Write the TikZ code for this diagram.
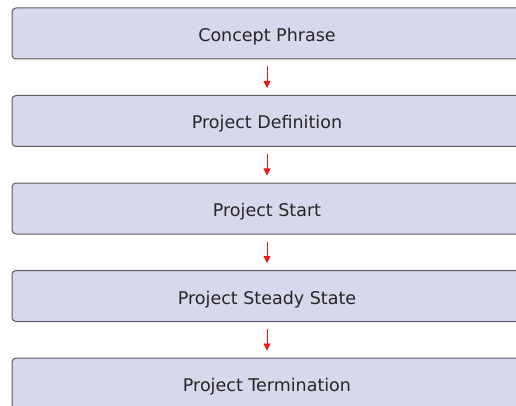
\documentclass[tikz,border=0pt]{standalone}
\usepackage{fontspec}
\setmainfont{DejaVu Sans}
\usetikzlibrary{arrows.meta}
\definecolor{boxfill}{RGB}{216,216,236}
\definecolor{boxline}{RGB}{90,90,95}
\definecolor{arrred}{RGB}{240,20,20}
\begin{document}
\begin{tikzpicture}[x=1pt,y=-1pt,
  stage/.style={draw=boxline, line width=1pt, fill=boxfill, rounded corners=4pt,
    minimum width=510pt, minimum height=51pt, inner sep=0pt, text height=16pt, text depth=0pt,
    font=\fontsize{17.5}{20}\selectfont, text=black!85},
  flow/.style={draw=arrred, line width=0.8pt, -{Triangle[length=7pt,width=7pt]}}]
\useasboundingbox (0,0) rectangle (516,406);
\clip (0,0) rectangle (516,406);
\node[stage] (a) at (267,33.5) {Concept Phrase};
\node[stage] (b) at (267,121) {Project Definition};
\node[stage] (c) at (267,208.5) {Project Start};
\node[stage] (d) at (267,296) {Project Steady State};
\node[stage] (e) at (267,383.5) {Project Termination};
\draw[flow] ([yshift=-7pt]a.south) -- ([yshift=7pt]b.north);
\draw[flow] ([yshift=-7pt]b.south) -- ([yshift=7pt]c.north);
\draw[flow] ([yshift=-7pt]c.south) -- ([yshift=7pt]d.north);
\draw[flow] ([yshift=-7pt]d.south) -- ([yshift=7pt]e.north);
\end{tikzpicture}
\end{document}
